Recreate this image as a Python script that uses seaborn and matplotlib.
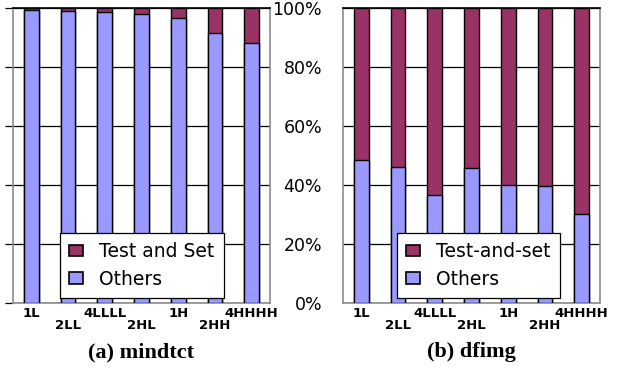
import matplotlib
matplotlib.use("Agg")
import matplotlib.pyplot as plt
import seaborn as sns
import pandas as pd

# Benchmark configurations (x categories)
configs = ["1L", "2LL", "4LLLL", "2HL", "1H", "2HH", "4HHHH"]

# Share of execution (%) spent outside test-and-set, per benchmark
mindtct_others = [99.3, 99.0, 98.5, 97.9, 96.7, 91.5, 88.2]
dfimg_others = [48.5, 46.2, 36.6, 45.7, 40.1, 39.7, 30.2]

# Remaining share spent in test-and-set
mindtct_tas = [100 - v for v in mindtct_others]
dfimg_tas = [100 - v for v in dfimg_others]

y_ticks = [0, 20, 40, 60, 80, 100]
y_ticklabels = ["0%", "20%", "40%", "60%", "80%", "100%"]

BLUE = "#9999FF"
MAROON = "#993366"
FRAME = "#8c8c8c"

sns.set_style("white")
plt.rcParams["font.family"] = ["DejaVu Sans"]
plt.rcParams["text.color"] = "black"
plt.rcParams["xtick.color"] = "black"
plt.rcParams["ytick.color"] = "black"

fig = plt.figure(figsize=(6.29, 3.69), dpi=100)
W, H = 629, 369


def px_axes(x0, y0, x1, y1):
    return fig.add_axes([x0 / W, (H - y1) / H, (x1 - x0) / W, (y1 - y0) / H])


panels = [
    (px_axes(13, 8, 270, 303), mindtct_others, mindtct_tas, "Test and Set",
     "(a) mindtct", 60),
    (px_axes(343, 8, 600, 303), dfimg_others, dfimg_tas, "Test-and-set",
     "(b) dfimg", 397),
]

for idx, (ax, others, tas, tas_label, title, leg_x) in enumerate(panels):
    df = pd.DataFrame({
        "config": configs,
        "others": others,
        "total": [o + t for o, t in zip(others, tas)],
    })
    # stacked bars: full height in maroon, lower segment in blue
    sns.barplot(data=df, x="config", y="total", order=configs, color=MAROON,
                width=0.4, edgecolor="black", linewidth=1.0, saturation=1,
                ax=ax, zorder=3)
    sns.barplot(data=df, x="config", y="others", order=configs, color=BLUE,
                width=0.4, edgecolor="black", linewidth=1.0, saturation=1,
                ax=ax, zorder=3)

    ax.set_ylim(0, 100)
    ax.set_xlim(-0.5, len(configs) - 0.5)
    ax.set_yticks(y_ticks)
    ax.yaxis.grid(True, color="black", linewidth=0.9, zorder=0)
    ax.set_axisbelow(True)
    ax.set_xlabel("")
    ax.set_ylabel("")

    for name, sp in ax.spines.items():
        sp.set_visible(True)
        sp.set_color(FRAME)
        sp.set_linewidth(1.2)
    ax.spines["top"].set_color("black")

    # staggered category labels: upper row on major ticks, lower row on minor
    upper = list(range(0, len(configs), 2))
    lower = list(range(1, len(configs), 2))
    ax.set_xticks(upper)
    ax.set_xticklabels([configs[i] for i in upper], fontsize=9.5,
                       fontweight="bold")
    ax.set_xticks(lower, minor=True)
    ax.set_xticklabels([configs[i] for i in lower], minor=True, fontsize=9.5,
                       fontweight="bold")
    ax.tick_params(axis="x", which="major", length=0, pad=3)
    ax.tick_params(axis="x", which="minor", length=0, pad=11.5)

    if idx == 0:
        ax.set_yticklabels([])
        ax.tick_params(axis="y", length=6, width=0.9, color="black",
                       direction="out", left=True)
    else:
        ax.set_yticklabels(y_ticklabels, fontsize=12.5)
        ax.tick_params(axis="y", length=0, pad=15)

    handles = [
        plt.Rectangle((0, 0), 1, 1, facecolor=MAROON, edgecolor="black", lw=1.2),
        plt.Rectangle((0, 0), 1, 1, facecolor=BLUE, edgecolor="black", lw=1.2),
    ]
    pos = ax.get_position()
    x0_ax = (leg_x - pos.x0 * W) / (pos.width * W)
    leg = ax.legend(handles, [tas_label, "Others"], loc="lower left",
                    bbox_to_anchor=(x0_ax, 0.017), borderaxespad=0,
                    fontsize=13.5, frameon=True, fancybox=False, framealpha=1,
                    handlelength=0.7, handleheight=0.55, handletextpad=0.9,
                    labelspacing=0.45, borderpad=0.5)
    leg.get_frame().set_edgecolor("black")
    leg.get_frame().set_linewidth(0.9)
    leg.set_zorder(10)

    cx = pos.x0 + pos.width / 2
    fig.text(cx, (H - 352) / H, title, ha="center", va="center",
             fontsize=16, fontweight="bold",
             family=["Liberation Serif", "DejaVu Serif"])

fig.savefig("out.png", dpi=100)
